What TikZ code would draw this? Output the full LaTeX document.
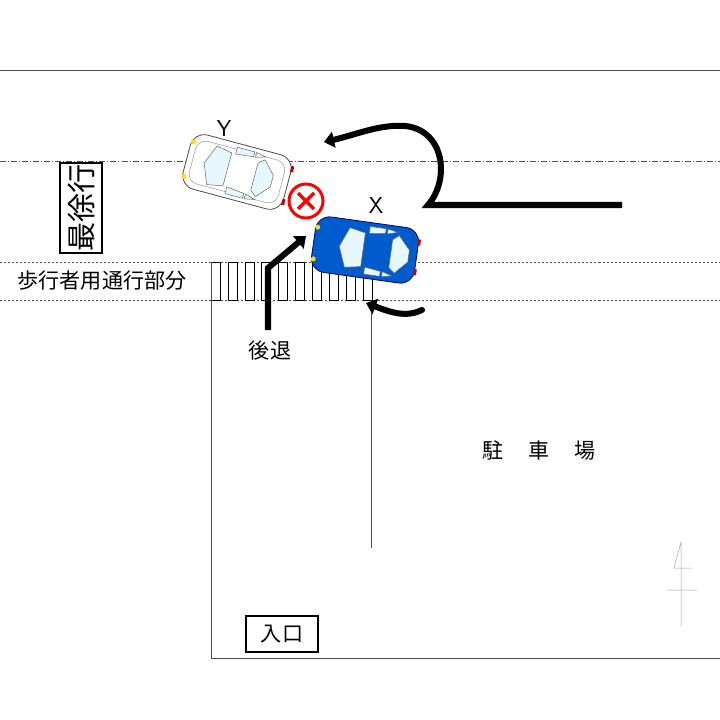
\documentclass[tikz,border=0pt]{standalone}
\usepackage{fontspec}
\newfontfamily\cjk{Noto Sans CJK JP}
\usetikzlibrary{arrows.meta}
\begin{document}
\begin{tikzpicture}[x=0.35mm,y=-0.35mm,
  thin line/.style={draw=black!70,line width=0.5pt},
  dashline/.style={draw=black!70,line width=0.5pt,dash pattern=on 2pt off 2pt},
  bigarrow/.style={line width=6pt,line cap=round,-{Triangle[length=10pt,width=16pt]}},
  lbl/.style={font=\cjk\fontsize{21}{24}\selectfont},
  carbody/.style={rounded corners=14pt,draw=black!70,line width=0.8pt},
  win/.style={fill=cyan!10,draw=black!60,line width=0.5pt}]
\useasboundingbox (0,0) rectangle (720,720);
\fill[white] (0,0) rectangle (720,720);
% roads
\draw[thin line] (0,70) -- (720,70);
\draw[draw=black!70,line width=0.5pt,dash pattern=on 6pt off 2pt on 1pt off 2pt] (0,161) -- (720,161);
\draw[dashline] (0,262) -- (720,262);
\draw[dashline] (0,300) -- (720,300);
\foreach \k in {0,...,9}{\draw[fill=white,draw=black,line width=0.5pt] (211+16.9*\k,262) rectangle ++(9,38);}
\draw[thin line] (211,262) -- (211,658) -- (720,658);
\draw[thin line] (371,300) -- (371,548);
% north symbol
\draw[black!35,line width=0.5pt] (681,542) -- (681,626) (681,542) -- (674,568) -- (692,568) (667,590) -- (697,590);
% labels
\node[draw,line width=1.8pt,minimum width=42*0.35mm,minimum height=90*0.35mm,inner sep=0pt] (slow) at (81,208) {};
\node[rotate=90,font=\cjk\fontsize{29}{32}\selectfont] (slowt) at (slow.center) {最徐行};
\node[lbl] (walk) at (102,281) {歩行者用通行部分};
\node[lbl] (back) at (270,351) {後退};
\node[lbl] (park) at (539,450) {駐\hspace{1.2em}車\hspace{1.2em}場};
\node[draw,line width=1.8pt,minimum width=72*0.35mm,minimum height=36*0.35mm,lbl] (entry) at (282,634) {入口};
\node[font=\sffamily\fontsize{23}{26}\selectfont] (ylab) at (224,128) {Y};
\node[font=\sffamily\fontsize{23}{26}\selectfont] (xlab) at (376,205) {X};
% car Y (white)
\begin{scope}[shift={(237,172)},rotate=-15]
\draw[carbody,fill=white] (-52,-28) rectangle (52,28);
\draw[black!40,line width=0.5pt,rounded corners=10pt] (-46,-22) rectangle (46,22);
\draw[win] (-26,-20) -- (-10,-17) -- (-10,17) -- (-26,20) -- (-34,0) -- cycle;
\draw[win] (24,-19) -- (36,-6) -- (36,6) -- (24,19) -- (18,14) -- (18,-14) -- cycle;
\draw[win] (-6,-24) -- (12,-24) -- (12,-19) -- (-6,-17) -- cycle; \draw[win] (14,-24) -- (24,-22) -- (14,-19) -- cycle;
\draw[win] (-6,24) -- (12,24) -- (12,19) -- (-6,17) -- cycle; \draw[win] (14,24) -- (24,22) -- (14,19) -- cycle;
\fill[yellow!80!orange] (-50,-18) circle (2.5) (-50,18) circle (2.5);
\fill[red!80!black] (51,-20) rectangle (54,-14) (51,14) rectangle (54,20);
\end{scope}
% car X (blue)
\begin{scope}[shift={(365,250)},rotate=-8]
\draw[carbody,fill=blue!55!cyan!80!black,draw=blue!40!black] (-52,-28) rectangle (52,28);
\draw[win] (-18,-20) -- (-2,-17) -- (-2,17) -- (-18,20) -- (-26,0) -- cycle;
\draw[win] (32,-19) -- (44,-6) -- (44,6) -- (32,19) -- (26,14) -- (26,-14) -- cycle;
\draw[win] (2,-24) -- (18,-24) -- (18,-19) -- (2,-17) -- cycle; \draw[win] (20,-24) -- (30,-22) -- (20,-19) -- cycle;
\draw[win] (2,24) -- (18,24) -- (18,19) -- (2,17) -- cycle; \draw[win] (20,24) -- (30,22) -- (20,19) -- cycle;
\fill[yellow!80!orange] (-50,-16) circle (2.5) (-50,16) circle (2.5);
\fill[red!80!black] (51,-18) rectangle (54,-12) (51,12) rectangle (54,18);
\end{scope}
% crash mark
\node[circle,draw=red,line width=3pt,minimum size=34*0.35mm,inner sep=0pt] (crash) at (306,201) {};
\draw[red,line width=3.5pt] (298,193) -- (314,209) (314,193) -- (298,209);
% arrows
\coordinate (u0) at (622,205);
\coordinate (u1) at (428,205);
\coordinate (u2) at (324,142);
\draw[bigarrow,line cap=butt] (u0) -- (u1) .. controls (450,180) and (445,130) .. (405,126) .. controls (380,124) and (355,135) .. (u2);
\coordinate (b0) at (268,330);
\coordinate (b1) at (306,236);
\draw[bigarrow,line cap=butt] (b0) -- (268,268) -- (b1);
\coordinate (r0) at (422,310);
\coordinate (r1) at (366,303);
\draw[bigarrow] (r0) .. controls (405,318) and (390,312) .. (r1);
\end{tikzpicture}
\end{document}
